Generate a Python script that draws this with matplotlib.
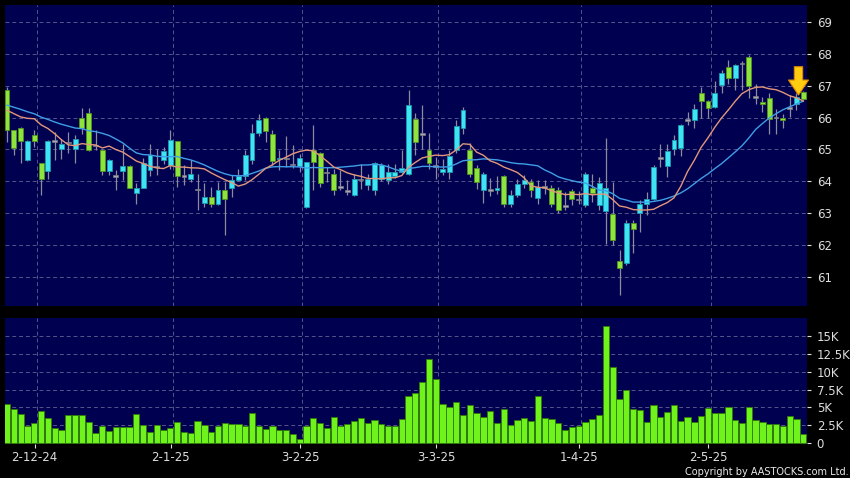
import numpy as np
import matplotlib
matplotlib.use('Agg')
from matplotlib import pyplot as plt
from matplotlib.ticker import FuncFormatter

# daily candles, 26-11-24 .. 23-5-25 (open, high, low, close)
o = np.array([66.88, 65.60, 65.66, 64.68, 65.45, 64.56, 64.31, 65.26, 65.01, 65.22,
              65.01, 66.00, 66.16, 65.13, 64.99, 64.33, 64.16, 64.33, 64.47, 63.64,
              63.80, 64.35, 64.47, 64.68, 64.50, 65.26, 64.16, 64.08, 63.74, 63.33,
              63.51, 63.30, 63.72, 63.80, 64.05, 64.16, 64.66, 65.53, 66.00, 65.50,
              64.70, 64.71, 64.53, 64.48, 63.19, 64.97, 64.89, 64.27, 64.24, 63.82,
              63.69, 63.58, 64.06, 63.89, 63.74, 64.08, 64.05, 64.17, 64.29, 64.24,
              65.95, 65.48, 64.99, 64.48, 64.30, 64.29, 64.97, 65.66, 64.99, 64.43,
              63.74, 63.72, 63.74, 64.16, 63.30, 63.58, 63.90, 63.98, 63.49, 63.82,
              63.80, 63.72, 63.22, 63.69, 63.43, 63.24, 63.80, 63.24, 63.07, 62.98,
              61.51, 61.44, 62.70, 63.00, 63.30, 63.45, 64.74, 64.48, 65.00, 65.06,
              65.92, 65.92, 66.76, 66.52, 66.34, 67.02, 67.60, 67.26, 67.70, 67.89,
              66.65, 66.49, 66.63, 66.00, 65.99, 66.31, 66.42, 66.79])
h = np.array([66.97, 65.62, 65.70, 65.30, 65.60, 64.58, 65.29, 65.55, 65.34, 65.55,
              65.45, 66.31, 66.31, 65.60, 65.00, 64.70, 64.35, 65.18, 64.50, 63.93,
              64.74, 65.16, 65.00, 65.08, 65.60, 65.28, 64.50, 64.66, 64.24, 63.93,
              63.82, 63.98, 63.98, 64.19, 64.40, 64.97, 65.81, 66.10, 66.02, 65.60,
              64.97, 65.41, 65.15, 64.85, 64.62, 65.78, 64.92, 64.45, 64.37, 64.34,
              64.03, 64.24, 64.55, 64.24, 64.61, 64.56, 64.55, 64.55, 64.97, 66.86,
              66.15, 66.41, 65.52, 64.76, 64.71, 64.97, 65.92, 66.34, 65.20, 64.50,
              64.30, 64.10, 64.16, 64.20, 63.72, 64.08, 64.20, 64.08, 64.05, 64.05,
              63.88, 63.82, 63.66, 63.76, 63.70, 64.29, 64.24, 64.13, 65.36, 63.98,
              61.83, 62.77, 62.77, 63.40, 63.66, 64.50, 65.18, 65.18, 65.45, 65.81,
              66.18, 66.44, 66.97, 66.55, 67.16, 67.50, 67.80, 67.70, 67.79, 67.96,
              67.07, 66.65, 66.76, 66.28, 66.13, 66.70, 66.76, 66.85])
l = np.array([65.24, 64.82, 64.56, 64.65, 65.08, 63.56, 64.08, 64.66, 64.71, 64.89,
              64.58, 65.50, 64.95, 64.97, 64.19, 64.19, 63.72, 64.03, 63.78, 63.30,
              63.78, 64.17, 64.20, 64.55, 64.40, 63.82, 63.87, 63.98, 63.09, 63.19,
              63.19, 63.25, 62.30, 63.49, 64.00, 64.03, 64.55, 65.43, 65.24, 64.50,
              64.35, 64.45, 64.43, 64.30, 63.15, 63.72, 63.82, 63.97, 63.56, 63.74,
              63.56, 63.55, 63.77, 63.74, 63.58, 64.00, 63.90, 64.10, 64.25, 64.20,
              64.82, 65.00, 64.40, 64.08, 64.20, 64.08, 64.90, 65.50, 64.14, 63.77,
              63.33, 63.55, 63.60, 63.20, 63.19, 63.50, 63.80, 63.50, 63.30, 63.60,
              63.20, 63.00, 63.09, 63.25, 63.30, 63.20, 63.35, 63.10, 62.04, 61.99,
              60.41, 61.36, 61.73, 62.41, 62.93, 63.40, 64.45, 64.14, 64.82, 64.79,
              65.76, 65.69, 66.00, 66.00, 66.30, 66.76, 67.07, 66.86, 66.86, 66.63,
              66.44, 66.18, 65.50, 65.48, 65.69, 66.02, 66.23, 66.55])
c = np.array([65.60, 65.05, 65.27, 65.26, 65.27, 64.08, 65.26, 65.26, 65.18, 65.22,
              65.34, 65.69, 64.99, 65.13, 64.33, 64.66, 64.16, 64.47, 63.80, 63.79,
              64.56, 64.82, 64.47, 64.94, 65.29, 64.16, 64.16, 64.24, 63.74, 63.51,
              63.30, 63.72, 63.45, 64.03, 64.17, 64.81, 65.53, 65.94, 65.58, 64.64,
              64.72, 64.71, 64.53, 64.74, 64.59, 64.59, 63.96, 64.27, 63.74, 63.82,
              63.69, 64.08, 64.06, 64.08, 64.56, 64.50, 64.29, 64.29, 64.42, 66.41,
              65.24, 65.48, 64.56, 64.48, 64.40, 64.80, 65.74, 66.25, 64.24, 63.98,
              64.24, 63.72, 63.80, 63.30, 63.58, 63.90, 64.05, 63.72, 63.82, 63.82,
              63.30, 63.09, 63.22, 63.45, 63.43, 64.24, 63.63, 63.95, 63.80, 62.14,
              61.28, 62.70, 62.49, 63.30, 63.45, 64.45, 64.74, 64.94, 65.29, 65.78,
              65.92, 66.28, 66.53, 66.29, 66.76, 67.39, 67.26, 67.65, 67.70, 67.00,
              66.65, 66.42, 65.95, 66.00, 65.92, 66.31, 66.65, 66.60])
# volume in thousand shares
vol = np.array([5.51, 4.82, 4.12, 2.36, 2.82, 4.49, 3.52, 2.08, 1.81, 3.89,
                3.98, 3.98, 2.96, 1.48, 2.45, 1.66, 2.31, 2.31, 2.27, 4.12,
                2.55, 1.53, 2.55, 1.85, 2.08, 3.00, 1.53, 1.39, 3.10, 2.50,
                1.53, 2.41, 2.78, 2.69, 2.64, 2.41, 4.26, 2.41, 1.94, 2.36,
                1.90, 1.90, 1.25, 0.56, 2.41, 3.57, 2.87, 2.13, 3.61, 2.36,
                2.64, 3.15, 3.57, 2.82, 3.29, 2.73, 2.41, 2.41, 3.33, 6.67,
                7.04, 8.57, 11.71, 9.03, 5.42, 5.00, 5.70, 3.89, 5.32, 4.26,
                3.70, 4.49, 2.78, 4.72, 2.55, 3.29, 3.47, 3.15, 6.67, 3.47,
                3.43, 2.87, 1.81, 2.31, 2.41, 2.92, 3.33, 3.98, 16.4, 10.7,
                6.25, 7.45, 4.72, 4.63, 2.92, 5.37, 3.61, 4.31, 5.37, 3.15,
                3.66, 3.01, 3.84, 4.95, 4.17, 4.17, 5.00, 3.29, 2.78, 5.00,
                3.29, 2.92, 2.64, 2.64, 2.36, 3.80, 3.43, 1.34])
# closes before the visible window (only needed to start the moving averages)
prev_close = np.array([66.3, 66.6, 66.8, 66.5, 66.2, 66.7, 66.9, 66.6, 66.4, 66.5,
                       66.1, 66.3, 65.7, 65.4, 66.0, 66.4, 66.9, 67.1, 66.8])

tick_idx = [4, 24, 43, 63, 84, 103]
tick_lab = ['2-12-24', '2-1-25', '3-2-25', '3-3-25', '1-4-25', '2-5-25']

n = len(c)
x = np.arange(n)
allc = np.concatenate([prev_close, c])
ma10 = np.convolve(allc, np.ones(10) / 10, mode='valid')[-n:]
ma20 = np.convolve(allc, np.ones(20) / 20, mode='valid')[-n:]

navy = '#000050'
gridc = '#55558a'
up_c, up_e = '#3ee4f4', '#1c9aac'
dn_c, dn_e = '#8ee43c', '#4f9420'

fig = plt.figure(figsize=(8.5, 4.78), dpi=100, facecolor='black')
ax = fig.add_axes([5 / 850, 172 / 478, 802 / 850, 301 / 478], facecolor=navy)
axv = fig.add_axes([5 / 850, 34 / 478, 802 / 850, 126 / 478], facecolor=navy)

xlim = (-0.3, n - 0.45)
gpos = np.array(tick_idx) + 0.4

# price panel
ax.set_xlim(xlim)
ax.set_ylim(60.08, 69.54)
for yy in range(61, 70):
    ax.axhline(yy, color=gridc, lw=0.7, ls=(0, (4, 3)), zorder=0)
for gx in gpos:
    ax.axvline(gx, color=gridc, lw=0.7, ls=(0, (4, 3)), zorder=0)

ax.vlines(x, l, h, color='#8c8c9c', lw=0.9, zorder=1)
up = c > o
dn = c < o
fl = c == o
ax.bar(x[up], (c - o)[up], bottom=o[up], width=0.72, color=up_c, edgecolor=up_e, lw=0.6, zorder=2)
ax.bar(x[dn], (o - c)[dn], bottom=c[dn], width=0.72, color=dn_c, edgecolor=dn_e, lw=0.6, zorder=2)
ax.bar(x[fl], 0.05, bottom=c[fl] - 0.025, width=0.72, color='#a8a8b0', edgecolor='#7a7a86', lw=0.5, zorder=2)

ax.plot(x, ma20, color='#3f9ee6', lw=1.0, zorder=3)
ax.plot(x, ma10, color='#e3977a', lw=1.0, zorder=3)

# marker arrow over the latest-but-one session
ax.annotate('', xy=(n - 1.7, c[-2] + 0.06), xytext=(n - 1.7, c[-2] + 0.95),
            arrowprops=dict(arrowstyle='simple,head_width=1.2,head_length=0.9,tail_width=0.5',
                            fc='#ffcc10', ec='#e08a00', lw=0.8, mutation_scale=12,
                            shrinkA=0, shrinkB=0), zorder=5)

ax.yaxis.tick_right()
ax.set_yticks(range(61, 70))
ax.tick_params(axis='y', colors='#dddddd', labelsize=8.5, length=3, pad=4)
ax.set_xticks([])

# volume panel
axv.set_xlim(xlim)
axv.set_ylim(-0.1, 17.5)
for yy in np.arange(2.5, 17, 2.5):
    axv.axhline(yy, color=gridc, lw=0.7, ls=(0, (4, 3)), zorder=0)
for gx in gpos:
    axv.axvline(gx, color=gridc, lw=0.7, ls=(0, (4, 3)), zorder=0)
axv.bar(x, vol, width=0.92, color='#70f21c', edgecolor='#2f7a08', lw=0.6, zorder=2)

axv.yaxis.tick_right()
axv.set_yticks(np.arange(0, 17, 2.5))
axv.yaxis.set_major_formatter(FuncFormatter(lambda v, p: '0' if v == 0 else ('%gK' % v)))
axv.tick_params(axis='y', colors='#dddddd', labelsize=8.5, length=3, pad=4)
axv.set_xticks(np.array(tick_idx) + 0.05)
axv.set_xticklabels(tick_lab)
axv.tick_params(axis='x', colors='#dddddd', labelsize=8.5, length=3, pad=2)

for a in (ax, axv):
    for s in a.spines.values():
        s.set_visible(False)

fig.text(0.998, 0.003, 'Copyright by AASTOCKS.com Ltd.', color='#e8e8e8',
         fontsize=7, ha='right', va='bottom')

plt.savefig('out.png', dpi=100, facecolor='black')
